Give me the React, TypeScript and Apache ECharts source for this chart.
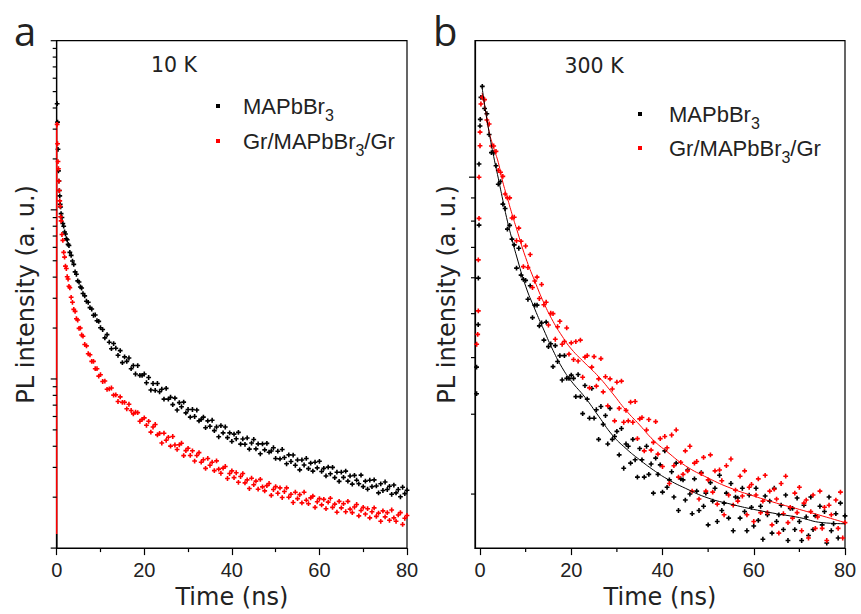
import React, { useEffect, useRef } from 'react';
import * as echarts from 'echarts';

// ---------- Panel a (10 K) ----------
const timesA = [
  0.1, 0.2, 0.3, 0.4, 0.5, 0.6, 0.7, 0.8, 0.9, 1.0,
  1.2, 1.4, 1.6, 1.8, 2.0, 2.2, 2.4, 2.6, 2.8, 3.0,
  3.3, 3.6, 3.9, 4.2, 4.5, 4.8, 5.1, 5.4, 5.7, 6.0,
  6.4, 6.8, 7.2, 7.6, 8.0, 8.4, 8.8, 9.2, 9.6, 10.0,
  10.5, 11, 11.5, 12, 12.5, 13, 13.5, 14, 14.5, 15,
  15.5, 16, 16.5, 17, 17.5, 18, 18.5, 19, 19.5, 20,
  20.5, 21, 21.5, 22, 22.5, 23, 23.5, 24, 24.5, 25,
  25.5, 26, 26.5, 27, 27.5, 28, 28.5, 29, 29.5, 30,
  30.5, 31, 31.5, 32, 32.5, 33, 33.5, 34, 34.5, 35,
  35.5, 36, 36.5, 37, 37.5, 38, 38.5, 39, 39.5, 40,
  40.5, 41, 41.5, 42, 42.5, 43, 43.5, 44, 44.5, 45,
  45.5, 46, 46.5, 47, 47.5, 48, 48.5, 49, 49.5, 50,
  50.5, 51, 51.5, 52, 52.5, 53, 53.5, 54, 54.5, 55,
  55.5, 56, 56.5, 57, 57.5, 58, 58.5, 59, 59.5, 60,
  60.5, 61, 61.5, 62, 62.5, 63, 63.5, 64, 64.5, 65,
  65.5, 66, 66.5, 67, 67.5, 68, 68.5, 69, 69.5, 70,
  70.5, 71, 71.5, 72, 72.5, 73, 73.5, 74, 74.5, 75,
  75.5, 76, 76.5, 77, 77.5, 78, 78.5, 79, 79.5, 80,
];
const blackA = [
  424, 330, 228, 170, 148, 130, 121, 108, 104, 95,
  90, 83, 80, 74, 72, 67.5, 66.5, 62.5, 61.5, 56,
  53.8, 49.8, 47.6, 43, 41.6, 38, 37.4, 35, 34.5, 32,
  31, 28.8, 28.4, 26.4, 25.9, 23.8, 23.9, 22.1, 21.9, 20.1,
  19.6, 17.5, 18.3, 16.5, 15.1, 16.2, 15.2, 13.8, 14.7, 12.5,
  13.5, 12.7, 13.3, 11.5, 12.0, 10.7, 12.0, 10.5, 10.5, 10.7,
  9.5, 10.2, 8.6, 9.4, 8.55, 9.4, 8.4, 8.7, 7.6, 8.8,
  7.6, 7.8, 7.05, 7.7, 6.55, 7.25, 6.85, 7.3, 6.3, 6.6,
  5.95, 6.6, 6.0, 6.55, 5.65, 5.77, 5.95, 5.15, 5.65, 5.25,
  5.7, 4.95, 5.2, 4.55, 5.3, 4.8, 5.2, 4.5, 4.8, 4.27,
  4.72, 4.43, 4.83, 4.12, 4.42, 4.11, 4.48, 3.85, 4.18, 4.39,
  3.86, 4.13, 3.61, 4.13, 3.81, 4.16, 3.69, 3.75, 3.92, 3.39,
  3.74, 3.37, 3.83, 3.43, 3.15, 3.56, 3.25, 3.55, 3.09, 3.32,
  2.9, 3.32, 3.10, 3.39, 2.95, 3.18, 2.85, 3.22, 2.98, 3.26,
  2.84, 2.96, 2.67, 3.01, 2.75, 3.0, 2.61, 2.81, 2.48, 2.81,
  2.62, 2.85, 2.49, 2.67, 2.39, 2.69, 2.52, 2.4, 2.70, 2.31,
  2.49, 2.23, 2.52, 2.31, 2.53, 2.33, 2.12, 2.40, 2.19, 2.46,
  2.22, 2.32, 2.08, 2.36, 2.12, 2.22, 2.01, 2.29, 2.10, 2.2,
];
const redA = [
  320, 246, 193, 175, 148, 130, 113, 105, 91, 86,
  71.5, 66, 56, 52.5, 46.5, 45, 40.2, 39, 35.3, 34.6,
  30.4, 28.4, 25.8, 25.1, 22.7, 22.3, 19.9, 20, 18.2, 17.9,
  16, 15.7, 14.1, 13.9, 12.7, 12.7, 11.5, 11.5, 10.4, 10.6,
  9.66, 9.72, 8.69, 8.75, 8.84, 8.03, 8.05, 7.36, 7.84, 7.27,
  7.28, 6.66, 7.09, 6.51, 6.22, 6.36, 6.32, 5.62, 5.77, 5.89,
  5.32, 5.62, 4.85, 5.20, 5.38, 4.67, 4.77, 4.18, 4.78, 4.34,
  4.52, 4.01, 4.57, 4.07, 3.83, 4.08, 4.17, 3.52, 3.77, 3.89,
  3.53, 3.76, 3.27, 3.53, 3.67, 3.22, 3.33, 2.96, 3.39, 3.09,
  3.22, 2.87, 3.28, 2.93, 2.77, 2.97, 3.04, 2.58, 2.76, 2.86,
  2.61, 2.79, 2.45, 2.65, 2.76, 2.43, 2.53, 2.25, 2.59, 2.37,
  2.49, 2.23, 2.55, 2.30, 2.18, 2.34, 2.41, 2.05, 2.22, 2.31,
  2.11, 2.27, 1.99, 2.16, 2.27, 2.00, 2.08, 1.86, 2.14, 1.96,
  2.07, 1.85, 2.14, 1.92, 1.83, 1.98, 2.03, 1.74, 1.88, 1.96,
  1.80, 1.94, 1.71, 1.87, 1.97, 1.74, 1.82, 1.63, 1.89, 1.73,
  1.83, 1.64, 1.89, 1.70, 1.62, 1.75, 1.81, 1.55, 1.67, 1.74,
  1.59, 1.71, 1.51, 1.64, 1.73, 1.54, 1.61, 1.44, 1.66, 1.53,
  1.62, 1.46, 1.68, 1.51, 1.44, 1.57, 1.62, 1.38, 1.50, 1.56,
];
// vertical rise at t = 0 (line)
const riseLineBlackA = [[0, 1], [0, 1.21]];
const riseLineRedA = [[0, 1.21], [0, 330]];

// ---------- Panel b (300 K) ----------
const timesB = [
  0.5, 1, 1.5, 2, 2.5, 3, 3.5, 4, 4.5, 5,
  5.5, 6, 6.5, 7, 7.5, 8, 8.5, 9, 9.5, 10,
  10.5, 11, 11.5, 12, 12.5, 13, 13.5, 14, 14.5, 15,
  15.5, 16, 16.5, 17, 17.5, 18, 18.5, 19, 19.5, 20,
  20.5, 21, 21.5, 22, 22.5, 23, 23.5, 24, 24.5, 25,
  25.5, 26, 26.5, 27, 27.5, 28, 28.5, 29, 29.5, 30,
  30.5, 31, 31.5, 32, 32.5, 33, 33.5, 34, 34.5, 35,
  35.5, 36, 36.5, 37, 37.5, 38, 38.5, 39, 39.5, 40,
  40.5, 41, 41.5, 42, 42.5, 43, 43.5, 44, 44.5, 45,
  45.5, 46, 46.5, 47, 47.5, 48, 48.5, 49, 49.5, 50,
  50.5, 51, 51.5, 52, 52.5, 53, 53.5, 54, 54.5, 55,
  55.5, 56, 56.5, 57, 57.5, 58, 58.5, 59, 59.5, 60,
  60.5, 61, 61.5, 62, 62.5, 63, 63.5, 64, 64.5, 65,
  65.5, 66, 66.5, 67, 67.5, 68, 68.5, 69, 69.5, 70,
  70.5, 71, 71.5, 72, 72.5, 73, 73.5, 74, 74.5, 75,
  75.5, 76, 76.5, 77, 77.5, 78, 78.5, 79, 79.5, 80,
];
const blackB = [
  1586, 1417, 1380, 1242, 1133, 1132, 1060, 965, 978, 872,
  853, 768, 783, 730, 709, 630, 697, 608, 595, 592,
  538, 576, 490, 522, 522, 470, 477, 437, 479, 423,
  429, 382, 425, 392, 404, 357, 404, 360, 360, 366,
  360, 328, 367, 328, 301, 347, 324, 294, 342, 294,
  307, 264, 312, 285, 298, 258, 309, 264, 268, 275,
  244, 279, 228, 258, 255, 234, 264, 238, 218, 252,
  238, 218, 255, 221, 233, 201, 240, 221, 232, 202,
  249, 207, 215, 224, 197, 234, 184, 216, 215, 194,
  226, 200, 181, 216, 203, 184, 223, 188, 201, 171,
  212, 193, 206, 174, 220, 184, 191, 201, 177, 211,
  166, 197, 196, 177, 206, 183, 166, 199, 187, 170,
  206, 175, 188, 159, 198, 180, 193, 164, 206, 174,
  180, 189, 167, 199, 158, 186, 186, 167, 196, 174,
  158, 189, 178, 162, 197, 167, 179, 151, 188, 171,
  183, 156, 197, 166, 172, 181, 160, 191, 151, 179,
];
const redB = [
  1500, 1483, 1337, 1310, 1172, 1172, 1140, 1035, 1025, 1004,
  918, 900, 900, 813, 816, 724, 772, 722, 635, 705,
  632, 675, 571, 590, 602, 540, 580, 523, 530, 472,
  501, 500, 439, 468, 481, 428, 434, 465, 407, 431,
  396, 434, 393, 437, 362, 401, 404, 343, 381, 402,
  346, 359, 398, 336, 363, 313, 359, 341, 290, 353,
  309, 355, 288, 306, 290, 319, 288, 320, 265, 293,
  295, 249, 277, 292, 250, 260, 289, 245, 265, 230,
  268, 253, 211, 270, 231, 277, 218, 235, 221, 249,
  225, 255, 203, 234, 236, 195, 222, 241, 203, 215,
  244, 202, 225, 190, 226, 214, 180, 231, 199, 239,
  189, 204, 193, 219, 198, 225, 180, 207, 210, 174,
  199, 216, 182, 193, 220, 182, 203, 171, 205, 195,
  164, 211, 181, 219, 173, 187, 177, 201, 182, 207,
  166, 191, 194, 160, 183, 199, 168, 178, 203, 168,
  187, 158, 189, 180, 151, 194, 168, 202, 160, 173,
];
const riseTimesBlackB = [-0.75, -0.75, -0.4, -0.37, -0.22, -0.22, 0.0, 0.05, 0.2];
const riseBlackB = [333, 381, 473, 599, 784, 1069, 1297, 1341, 1500];
const riseTimesRedB = [-0.73, -0.51, -0.37, -0.37, -0.22, -0.22, 0.0, 0.0, 0.2];
const riseRedB = [428, 450, 507, 657, 811, 1000, 1173, 1257, 1450];

const fitTimesB = [0.45, 1, 2, 3, 4, 5, 6, 7, 8, 10, 12, 14, 16, 18, 20, 23, 26, 29, 32, 35, 38, 41, 45, 50, 55, 60, 65, 70, 75, 80];
const fitBlackB = [1580, 1446, 1255, 1110, 995, 890, 800, 730, 670, 575, 512, 460, 415, 380, 355, 327, 297, 270, 252, 238, 226, 216, 206, 196, 190, 185, 181, 177.5, 173, 172];
const fitRedB = [1535, 1440, 1260, 1160, 1078, 975, 900, 830, 770, 665, 590, 528, 481, 446, 418, 389, 363, 334, 306, 284, 263, 248, 231, 217, 206, 198, 191, 185, 179, 173];

// ---------- ticks ----------
const xTickValues = [0, 20, 40, 60, 80];
const xMinorTickValuesB = [10, 30, 50, 70];
const yMajorA = [1, 10, 100, 1000];
const yMinorA = [2, 3, 4, 5, 6, 7, 8, 9, 20, 30, 40, 50, 60, 70, 80, 90, 200, 300, 400, 500, 600, 700, 800, 900];
const yMajorB = [1000];
const yMinorB = [200, 300, 400, 500, 600, 700, 800, 900];

const S1 = 'MAPbBr3';
const S2 = 'Gr/MAPbBr3/Gr';

const PLUS = 'path://M1,0H2V1H3V2H2V3H1V2H0V1H1Z';
const zip = (xs: number[], ys: number[]) => xs.map((x, i) => [x, ys[i]]);

const TXT = '#222';
const AX = '#000';

function legendFor(left: number, top: number, gap: number, spW: number) {
  return {
    left, top, orient: 'vertical', padding: 0, itemGap: gap,
    icon: 'rect', itemWidth: 4, itemHeight: 4, selectedMode: false,
    data: [S1, S2],
    formatter: (name: string) => name === S1
      ? '{sp| }{n|MAPbBr}{s|3}'
      : '{sp| }{n|Gr/MAPbBr}{s|3}{n|/Gr}',
    textStyle: {
      color: TXT,
      rich: {
        sp: { width: spW, fontSize: 10 },
        n: { fontSize: 22, lineHeight: 34, fontFamily: 'Liberation Sans', color: TXT, verticalAlign: 'middle' },
        s: { fontSize: 16, lineHeight: 16, fontFamily: 'Liberation Sans', color: TXT, verticalAlign: 'bottom' },
      },
    },
  };
}

function xAxisBase(gridIndex: number) {
  return {
    type: 'value', gridIndex,
    name: 'Time (ns)', nameLocation: 'middle', nameGap: 31,
    nameTextStyle: { fontFamily: 'DejaVu Sans', fontSize: 24, color: TXT },
    axisLine: { show: true, onZero: false, lineStyle: { color: AX, width: 1.2 } },
    splitLine: { show: false },
    minorSplitLine: { show: false },
  };
}
function yAxisBase(gridIndex: number, min: number, max: number, gap: number) {
  return {
    type: 'log', logBase: 10, gridIndex, min, max,
    name: 'PL intensity (a. u.)', nameLocation: 'middle', nameGap: gap,
    nameTextStyle: { fontFamily: 'DejaVu Sans', fontSize: 24, color: TXT },
    axisLine: { show: true, onZero: false, lineStyle: { color: AX, width: 1.2 } },
    axisTick: { show: false },
    axisLabel: { show: false },
    splitLine: { show: false },
  };
}

const labelTexts = [
  { type: 'text', x: 14, y: 30, style: { text: 'a', fontSize: 40, fontFamily: 'Open Sans', fill: TXT, align: 'left', verticalAlign: 'middle' } },
  { type: 'text', x: 433, y: 30, style: { text: 'b', fontSize: 40, fontFamily: 'Open Sans', fill: TXT, align: 'left', verticalAlign: 'middle' } },
  { type: 'text', x: 151, y: 65, style: { text: '10 K', fontSize: 20.5, fontFamily: 'DejaVu Sans', fill: TXT, align: 'left', verticalAlign: 'middle' } },
  { type: 'text', x: 564.5, y: 66, style: { text: '300 K', fontSize: 20.5, fontFamily: 'DejaVu Sans', fill: TXT, align: 'left', verticalAlign: 'middle' } },
];

export default function App() {
  const ref = useRef<HTMLDivElement>(null);
  useEffect(() => {
    if (!ref.current) return;
    const chart = echarts.init(ref.current, null, { renderer: 'svg' });
    const scatterStyle = (color: string) => ({
      type: 'scatter', symbol: PLUS, symbolSize: 4.8,
      itemStyle: { color, opacity: 1 }, emphasis: { disabled: true }, z: 3,
    });
    const option: any = {
      animation: false,
      backgroundColor: '#fff',
      grid: [
        { left: 56.7, top: 40.7, width: 350.3, height: 512, show: true, borderColor: AX, borderWidth: 1.2, containLabel: false },
        { left: 475, top: 40.7, width: 370, height: 512, show: true, borderColor: AX, borderWidth: 1.2, containLabel: false },
      ],
      xAxis: [
        {
          ...xAxisBase(0), min: 0, max: 80, interval: 20,
          axisTick: { show: true, length: 7, lineStyle: { color: AX, width: 1.2 } },
          minorTick: { show: true, splitNumber: 2, length: 4, lineStyle: { color: AX, width: 1.2 } },
          axisLabel: { fontSize: 20, fontFamily: 'Liberation Sans', color: TXT, margin: 12 },
        },
        {
          ...xAxisBase(1), min: -1.1, max: 80,
          axisTick: { show: true, length: 7, customValues: xTickValues, lineStyle: { color: AX, width: 1.2 } },
          axisLabel: { fontSize: 20, fontFamily: 'Liberation Sans', color: TXT, margin: 12, customValues: xTickValues },
        },
      ],
      yAxis: [
        yAxisBase(0, 1, 1000, 19),
        yAxisBase(1, 152, 2000, 16),
      ],
      legend: [
        legendFor(216, 95, 7, 18),
        legendFor(638, 103, 6, 22),
      ],
      series: [
        { ...scatterStyle('#000'), name: S1, xAxisIndex: 0, yAxisIndex: 0, data: zip(timesA, blackA) },
        { ...scatterStyle('#ff0000'), name: S2, xAxisIndex: 0, yAxisIndex: 0, data: zip(timesA, redA) },
        { type: 'line', name: 'riseA1', xAxisIndex: 0, yAxisIndex: 0, data: riseLineBlackA, showSymbol: false, lineStyle: { color: '#000', width: 1.5 }, z: 4 },
        { type: 'line', name: 'riseA2', xAxisIndex: 0, yAxisIndex: 0, data: riseLineRedA, showSymbol: false, lineStyle: { color: '#ff0000', width: 1.5 }, z: 4 },
        { ...scatterStyle('#000'), name: S1, xAxisIndex: 1, yAxisIndex: 1, data: [...zip(riseTimesBlackB, riseBlackB), ...zip(timesB, blackB)] },
        { ...scatterStyle('#ff0000'), name: S2, xAxisIndex: 1, yAxisIndex: 1, data: [...zip(riseTimesRedB, riseRedB), ...zip(timesB, redB)] },
        { type: 'line', name: 'fitRedB', xAxisIndex: 1, yAxisIndex: 1, data: zip(fitTimesB, fitRedB), smooth: true, showSymbol: false, lineStyle: { color: '#ff0000', width: 1 }, z: 4 },
        { type: 'line', name: 'fitBlackB', xAxisIndex: 1, yAxisIndex: 1, data: zip(fitTimesB, fitBlackB), smooth: true, showSymbol: false, lineStyle: { color: '#000', width: 1 }, z: 4 },
      ],
      graphic: labelTexts,
    };
    chart.setOption(option);

    // log-axis ticks (outward) drawn through the axes' own scales
    const g: any[] = [...labelTexts];
    const tick = (x1: number, y1: number, x2: number, y2: number) => ({
      type: 'line', silent: true, z: 10,
      shape: { x1, y1, x2, y2 }, style: { stroke: AX, lineWidth: 1.2 },
    });
    const leftA = chart.convertToPixel({ xAxisIndex: 0 }, 0) as number;
    const leftB = chart.convertToPixel({ xAxisIndex: 1 }, -1.1) as number;
    yMajorA.forEach((v) => { const y = chart.convertToPixel({ yAxisIndex: 0 }, v) as number; g.push(tick(leftA - 6, y, leftA, y)); });
    yMinorA.forEach((v) => { const y = chart.convertToPixel({ yAxisIndex: 0 }, v) as number; g.push(tick(leftA - 4, y, leftA, y)); });
    yMajorB.forEach((v) => { const y = chart.convertToPixel({ yAxisIndex: 1 }, v) as number; g.push(tick(leftB - 6, y, leftB, y)); });
    yMinorB.forEach((v) => { const y = chart.convertToPixel({ yAxisIndex: 1 }, v) as number; g.push(tick(leftB - 4, y, leftB, y)); });
    const bottomB = chart.convertToPixel({ yAxisIndex: 1 }, 152) as number;
    xMinorTickValuesB.forEach((v) => { const x = chart.convertToPixel({ xAxisIndex: 1 }, v) as number; g.push(tick(x, bottomB, x, bottomB + 4)); });
    chart.setOption({ graphic: g });

    return () => chart.dispose();
  }, []);
  return <div ref={ref} style={{ position: 'absolute', left: 0, top: 0, width: 861, height: 614 }} />;
}
